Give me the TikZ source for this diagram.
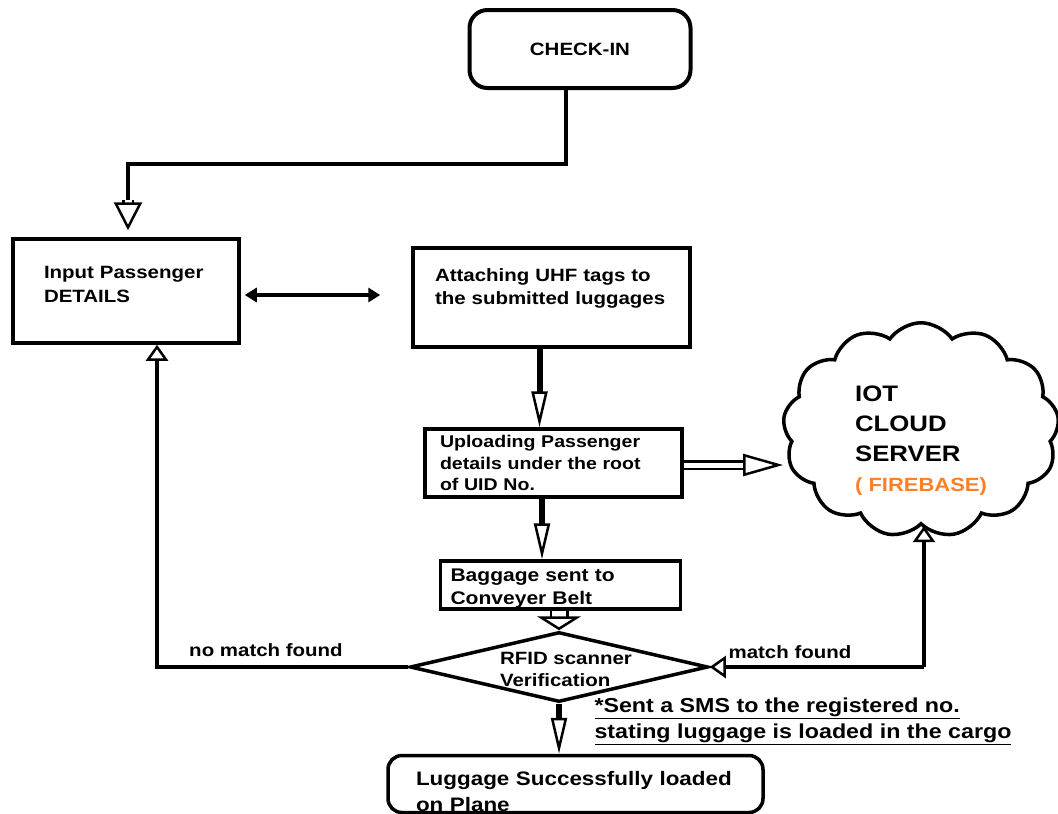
\documentclass[tikz,border=0pt]{standalone}
\usepackage{fontspec}
\setmainfont{Liberation Sans}[FakeStretch=1.15]
\usetikzlibrary{arrows.meta,shapes.geometric,shapes.symbols,positioning}
\definecolor{fireorange}{RGB}{255,127,39}
\newcommand{\sz}[2]{\fontsize{#1}{#2}\selectfont\bfseries}

\tikzset{
  box/.style={draw, line width=3.5pt, align=left, inner ysep=0pt},
  wire/.style={line width=4pt},
  pointer/.style={line width=6pt, -{Triangle[open, length=36pt, width=16pt, line width=2.5pt]}},
  hollow/.style={double, double distance=8pt, line width=2.5pt,
    -{Triangle[open, length=26pt, width=30pt, line width=2.5pt]}},
  tip/.style={-{Triangle[open, length=16pt, width=22pt, line width=2.5pt]}},
  tag/.style={font=\sz{17.8}{22}},
}

\begin{document}
\hyphenpenalty=10000
\begin{tikzpicture}[x=1pt, y=-1pt]
\useasboundingbox (0,0) rectangle (1058,814);

% boxes
\node[box, rounded corners=18pt, line width=4pt, minimum width=221pt, minimum height=78pt, font=\sz{17.8}{22}] (checkin) at (580,49) {CHECK-IN};
\node[box, text width=164pt, inner xsep=31pt, minimum height=104pt, text depth=38pt, font=\sz{17.8}{24}] (input) at (126,291) {Input Passenger\\DETAILS};
\node[box, text width=233pt, inner xsep=22pt, minimum height=99pt, text depth=45pt, font=\sz{17.8}{23}] (attach) at (551.5,297.5) {Attaching UHF tags to\\the submitted luggages};
\node[box, text width=227pt, inner xsep=15pt, minimum height=68pt, font=\sz{17}{21.5}] (upload) at (553.5,463) {Uploading Passenger\\details under the root\\of UID No.};
\node[box, text width=220pt, inner xsep=10pt, minimum height=48pt, text depth=20pt, font=\sz{18.3}{23}] (baggage) at (560.5,585) {Baggage sent to\\Conveyer Belt};
\node[draw, diamond, line width=3.5pt, inner sep=0pt, aspect=4.25, minimum width=298pt, minimum height=70pt] (verify) at (559,667) {};
\node[tag, align=left] (verifytext) at (566,669) {RFID scanner\\Verification};
\node[box, rounded corners=14pt, text width=319pt, inner xsep=28pt, minimum height=57pt, text depth=12pt, font=\sz{19.5}{26}] (finish) at (575.5,784) {Luggage Successfully loaded\\on Plane};
\node[cloud, draw, line width=3.5pt, cloud puffs=13, cloud puff arc=110, minimum width=276pt, minimum height=205pt, align=left, font=\sz{22.4}{30}] (cloud) at (921,430) {\rule{0pt}{36pt}IOT\\CLOUD\\SERVER\\{\color{fireorange}\sz{19.1}{30}( FIREBASE)}};

% connectors
\coordinate (bend) at (128,164);
\draw[wire] ([xshift=-14pt]checkin.south) |- (bend) -- ++(0,36) coordinate (drop);
\draw[hollow, double distance=7pt, -{Triangle[open, length=28pt, width=28pt, line width=2.5pt]}, shorten >=7pt] (drop) -- (input.north -| drop);
\draw[line width=4pt, {Triangle[length=12pt,width=14pt]}-{Triangle[length=12pt,width=14pt]}, shorten <=4pt, shorten >=31pt] (input.east |- 0,295) -- (attach.west |- 0,295);
\draw[pointer] ([xshift=-12pt]attach.south) -- ([xshift=-12pt]attach.south |- upload.north);
\draw[hollow, double distance=5pt, -{Triangle[open, length=40pt, width=22pt, line width=2.5pt]}] (upload.east |- 0,465) -- (cloud.west |- 0,465);
\draw[pointer] (upload.south -| 542,0) -- (baggage.north -| 542,0);
\draw[hollow, double distance=14pt, -{Triangle[open, length=14pt, width=44pt, line width=2.5pt]}] (baggage.south -| 559,0) -- (verify.north);
\draw[pointer] (verify.south) -- (verify.south |- finish.north);

\coordinate (nomatch) at (157,667);
\draw[wire, tip] (verify.west) -- (nomatch) -- (nomatch |- input.south);
\node[tag] (nomatchlabel) at (266,650) {no match found};

\coordinate (hub) at (924,667);
\draw[wire, tip] (hub) -- (hub |- cloud.south);
\draw[wire, tip] (hub) -- (verify.east);
\node[tag] (matchlabel) at (790,652) {match found};

\node[anchor=west, align=left, font=\sz{20.2}{26}] (sms) at (591,721) {\underline{*Sent a SMS to the registered no.}\\\underline{stating luggage is loaded in the cargo}};
\end{tikzpicture}
\end{document}
